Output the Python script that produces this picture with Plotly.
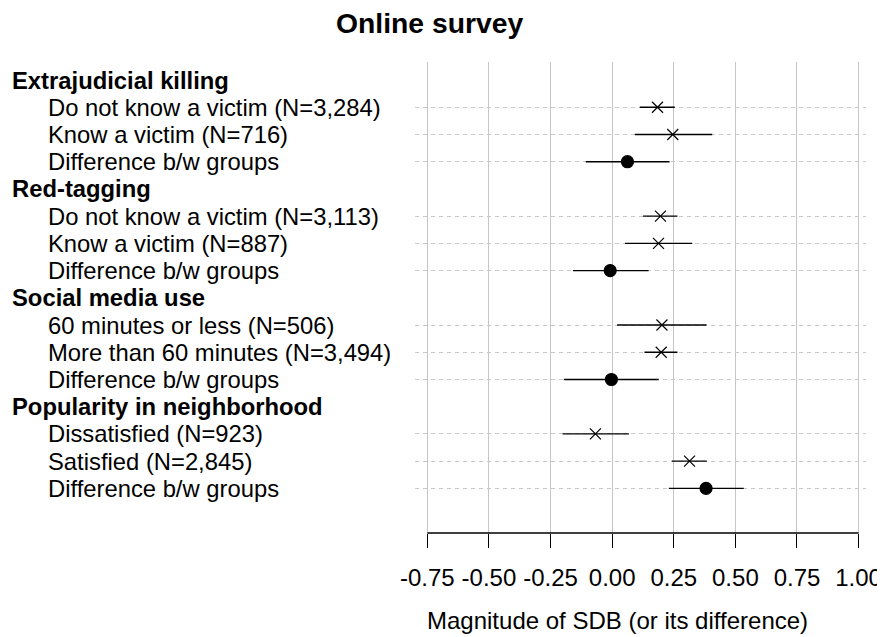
import plotly.graph_objects as go

title_text = "Online survey"
x_title = "Magnitude of SDB (or its difference)"
groups = ["Extrajudicial killing", "Red-tagging", "Social media use", "Popularity in neighborhood"]
item_labels = [
    "Do not know a victim (N=3,284)", "Know a victim (N=716)", "Difference b/w groups",
    "Do not know a victim (N=3,113)", "Know a victim (N=887)", "Difference b/w groups",
    "60 minutes or less (N=506)", "More than 60 minutes (N=3,494)", "Difference b/w groups",
    "Dissatisfied (N=923)", "Satisfied (N=2,845)", "Difference b/w groups",
]
is_diff = [False, False, True] * 4
estimates = [0.184, 0.246, 0.062, 0.196, 0.188, -0.008, 0.202, 0.199, -0.003, -0.068, 0.314, 0.381]
lower = [0.112, 0.092, -0.107, 0.125, 0.052, -0.159, 0.020, 0.131, -0.196, -0.201, 0.242, 0.230]
upper = [0.254, 0.406, 0.233, 0.265, 0.325, 0.148, 0.383, 0.265, 0.189, 0.068, 0.384, 0.534]
tick_vals = [-0.75, -0.50, -0.25, 0.00, 0.25, 0.50, 0.75, 1.00]
tick_text = ["-0.75", "-0.50", "-0.25", "0.00", "0.25", "0.50", "0.75", "1.00"]

W, H = 885, 637
OFF = 8  # default page body margin offsets the figure
FW, FH = W - OFF, H - OFF
FONT = "Liberation Sans, Arial, sans-serif"

# plot area in window pixels
L, R, T, B = 415, 866, 62, 533.3
PW, PH = R - L, B - T


def px_x(p):
    return (p - L) / PW


def px_y(p):
    return (B - p) / PH


# row positions: each group header takes a row, followed by its items
header_rows = [4 * g for g in range(len(groups))]
item_rows = [4 * (i // 3) + 1 + (i % 3) for i in range(len(item_labels))]

fig = go.Figure()
for flag, sym, size in [(False, "x-thin-open", 11), (True, "circle", 12)]:
    idx = [i for i in range(len(estimates)) if is_diff[i] == flag]
    fig.add_trace(go.Scatter(
        x=[estimates[i] for i in idx],
        y=[item_rows[i] for i in idx],
        mode="markers",
        marker=dict(symbol=sym, size=size, color="black",
                    line=dict(color="black", width=1.2)),
        error_x=dict(type="data", symmetric=False,
                     array=[upper[i] - estimates[i] for i in idx],
                     arrayminus=[estimates[i] - lower[i] for i in idx],
                     color="black", thickness=1.4, width=0),
        showlegend=False, hoverinfo="skip",
    ))

annotations = []
for g, r in zip(groups, header_rows):
    annotations.append(dict(text="<b>" + g + "</b>", x=px_x(10), xref="paper", y=r, yref="y",
                            xanchor="left", yanchor="middle", showarrow=False,
                            font=dict(family=FONT, size=23.8, color="black")))
for lab, r in zip(item_labels, item_rows):
    annotations.append(dict(text=lab, x=px_x(46), xref="paper", y=r, yref="y",
                            xanchor="left", yanchor="middle", showarrow=False,
                            font=dict(family=FONT, size=23.8, color="black")))
annotations.append(dict(text=x_title, x=px_x(617), xref="paper", y=px_y(621), yref="paper",
                        xanchor="center", yanchor="middle", showarrow=False,
                        font=dict(family=FONT, size=24, color="black")))
annotations.append(dict(text="<b>" + title_text + "</b>", x=px_x(429), xref="paper",
                        y=px_y(23), yref="paper", xanchor="center", yanchor="middle",
                        showarrow=False, font=dict(family=FONT, size=28.3, color="black")))

fig.add_shape(type="line", x0=tick_vals[0], x1=tick_vals[-1], xref="x",
              y0=0, y1=0, yref="paper", line=dict(color="black", width=1.3))

fig.update_layout(
    width=FW, height=FH,
    margin=dict(l=L - OFF, r=W - R, t=T - OFF, b=H - B, pad=0, autoexpand=False),
    paper_bgcolor="white", plot_bgcolor="white",
    font=dict(family=FONT, size=24, color="black"),
    annotations=annotations,
    xaxis=dict(domain=[0, 1], range=[-0.80, 1.03], automargin=False,
               tickvals=tick_vals, ticktext=tick_text,
               showgrid=True, gridcolor="#c6c6c6", gridwidth=1.2,
               zeroline=False, showline=False,
               ticks="outside", ticklen=14, tickwidth=1.3, tickcolor="black",
               ticklabelstandoff=9,
               tickfont=dict(family=FONT, size=24, color="black")),
    yaxis=dict(range=[16.64, -0.663], tickvals=item_rows, showticklabels=False,
               automargin=False,
               showgrid=True, gridcolor="#c8c8c8", gridwidth=1, griddash="4px,4px",
               zeroline=False, showline=False, ticks=""),
)

fig.write_html("out.html")
